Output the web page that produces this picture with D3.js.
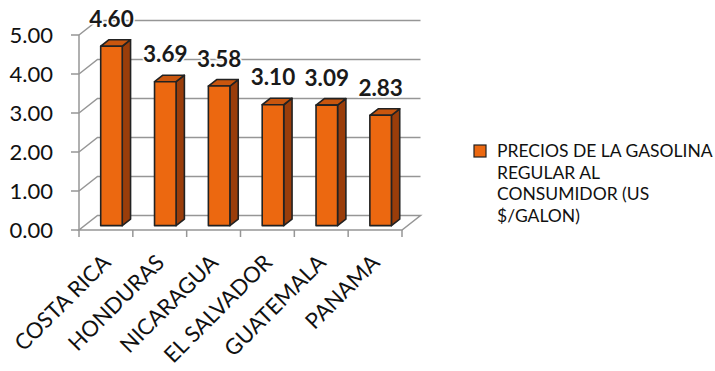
<!DOCTYPE html>
<html><head><meta charset="utf-8">
<script src="https://cdn.jsdelivr.net/npm/d3@7"></script>
<style>body{margin:0;background:#fff} svg{display:block}</style>
</head><body>
<svg id="chart" width="715" height="371"></svg>
<script>
// Regular gasoline consumer prices, US$ per gallon
const categories = ["COSTA RICA", "HONDURAS", "NICARAGUA", "EL SALVADOR", "GUATEMALA", "PANAMA"];
const prices = [4.60, 3.69, 3.58, 3.10, 3.09, 2.83];
const yTicks = [0, 1, 2, 3, 4, 5];
const legendLines = ["PRECIOS DE LA GASOLINA", "REGULAR AL", "CONSUMIDOR (US", "$/GALON)"];

const FONT = "Lato, 'Open Sans', sans-serif";
const svg = d3.select("#chart");

const x = d3.scaleBand().domain(categories).range([79, 402]);
const y = d3.scaleLinear().domain([0, 5]).range([230, 35]);
const depth = { dx: 18.5, dy: -14.5 };
// screen position of a point at axis position px, value v and depth fraction f
const P = (px, v, f) => [px + f * depth.dx, y(v) + f * depth.dy];
const line = d3.line();

const gridColor = "#969696";
const x0 = x.range()[0], x1 = x.range()[1];

// floor
svg.append("path")
  .attr("d", line([P(x0, 0, 0), P(x1, 0, 0), P(x1, 0, 1), P(x0, 0, 1)]) + "Z")
  .attr("fill", "none").attr("stroke", gridColor).attr("stroke-width", 1.5);

// side wall diagonals and back wall gridlines
yTicks.filter(t => t > 0).forEach(t => {
  svg.append("path")
    .attr("d", line([P(x0, t, 0), P(x0, t, 1), P(x1, t, 1)]))
    .attr("fill", "none").attr("stroke", gridColor).attr("stroke-width", 1.5);
});

// value axis
svg.append("line").attr("x1", x0).attr("x2", x0).attr("y1", y(0)).attr("y2", y(5))
  .attr("stroke", gridColor).attr("stroke-width", 1.5);
yTicks.forEach(t => {
  svg.append("line").attr("x1", x0 - 8).attr("x2", x0).attr("y1", y(t)).attr("y2", y(t))
    .attr("stroke", gridColor).attr("stroke-width", 1.5);
  svg.append("text").attr("x", 53).attr("y", y(t) + 8)
    .attr("text-anchor", "end").attr("font-family", FONT).attr("font-size", 22)
    .attr("fill", "#111").text(t.toFixed(2));
});

// category ticks
const edges = categories.map(c => x(c)).concat([x1]);
edges.forEach(e => {
  svg.append("line").attr("x1", e).attr("x2", e).attr("y1", y(0)).attr("y2", y(0) + 7)
    .attr("stroke", gridColor).attr("stroke-width", 1.5);
});

// category labels
categories.forEach(c => {
  const cx = x(c) + x.bandwidth() / 2 + 6;
  svg.append("text")
    .attr("transform", `translate(${cx},264) rotate(-45)`)
    .attr("text-anchor", "end").attr("font-family", FONT).attr("font-size", 22)
    .attr("fill", "#111").text(c);
});

// 3D columns
const f0 = 0.3, f1 = 0.75;
const colors = { front: "#EC6810", side: "#9A3D0A", top: "#C9560E", edge: "#222" };
categories.forEach((c, i) => {
  const v = prices[i];
  const bw = x.bandwidth();
  const a = x(c) + bw * 0.3, b = x(c) + bw * 0.7;
  const g = svg.append("g").attr("stroke", colors.edge).attr("stroke-width", 1.6)
    .attr("stroke-linejoin", "round");
  g.append("path").attr("fill", colors.side)
    .attr("d", line([P(b, 0, f0), P(b, 0, f1), P(b, v, f1), P(b, v, f0)]) + "Z");
  g.append("path").attr("fill", colors.top)
    .attr("d", line([P(a, v, f0), P(b, v, f0), P(b, v, f1), P(a, v, f1)]) + "Z");
  g.append("path").attr("fill", colors.front)
    .attr("d", line([P(a, 0, f0), P(b, 0, f0), P(b, v, f0), P(a, v, f0)]) + "Z");

  const [lx, ly] = P((a + b) / 2, v, f0);
  svg.append("text").attr("x", lx).attr("y", ly - 19.5)
    .attr("text-anchor", "middle").attr("font-family", FONT).attr("font-size", 22.5)
    .attr("font-weight", "bold").attr("fill", "#1a1a1a")
    .attr("stroke", "#fff").attr("stroke-width", 3).attr("paint-order", "stroke")
    .text(v.toFixed(2));
});

// legend
const legend = svg.append("g").attr("transform", "translate(474,145)");
legend.append("rect").attr("width", 12).attr("height", 12)
  .attr("fill", colors.front).attr("stroke", colors.edge).attr("stroke-width", 1.2);
legendLines.forEach((t, i) => {
  legend.append("text").attr("x", 23).attr("y", 12 + i * 21.5)
    .attr("font-family", FONT).attr("font-size", 17.5).attr("fill", "#111").text(t);
});
</script>
</body></html>
